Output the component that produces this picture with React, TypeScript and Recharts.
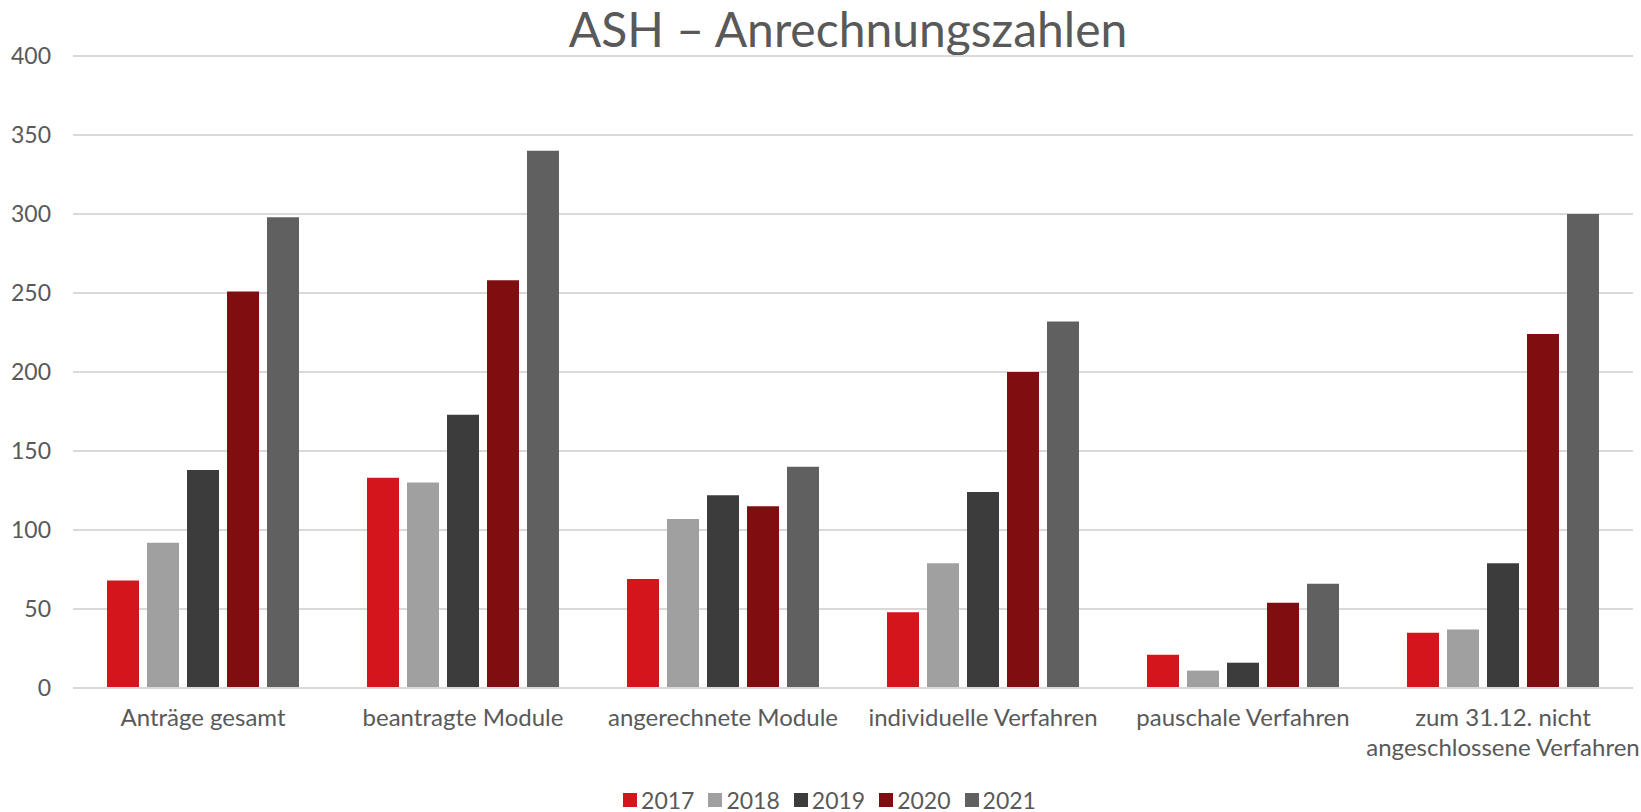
import { BarChart, Bar, XAxis, YAxis, CartesianGrid, Legend } from "recharts";

const categories = [
  "Anträge gesamt",
  "beantragte Module",
  "angerechnete Module",
  "individuelle Verfahren",
  "pauschale Verfahren",
  "zum 31.12. nicht\nangeschlossene Verfahren",
];

const years = ["2017", "2018", "2019", "2020", "2021"];

const values2017 = [68, 133, 69, 48, 21, 35];
const values2018 = [92, 130, 107, 79, 11, 37];
const values2019 = [138, 173, 122, 124, 16, 79];
const values2020 = [251, 258, 115, 200, 54, 224];
const values2021 = [298, 340, 140, 232, 66, 300];

const yTicks = [0, 50, 100, 150, 200, 250, 300, 350, 400];

const COLORS = ["#d3161c", "#a0a0a0", "#3c3c3c", "#800e10", "#606060"];

const FONT = "Lato, 'Liberation Sans', sans-serif";
const TEXT_COLOR = "#595959";

const seriesValues = [values2017, values2018, values2019, values2020, values2021];

const data = categories.map((category, i) => {
  const row: Record<string, string | number> = { category };
  years.forEach((year, j) => {
    row[year] = seriesValues[j][i];
  });
  return row;
});

function CategoryTick({ x, y, payload }: any) {
  const lines = String(payload.value).split("\n");
  return (
    <text
      x={x}
      y={y + 38}
      textAnchor="middle"
      fill={TEXT_COLOR}
      fontSize={24}
      fontFamily={FONT}
    >
      {lines.map((line, i) => (
        <tspan key={i} x={x} dy={i === 0 ? 0 : 30}>
          {line}
        </tspan>
      ))}
    </text>
  );
}

function YearLegend() {
  return (
    <div
      style={{
        height: 24,
        lineHeight: "24px",
        display: "flex",
        justifyContent: "center",
        alignItems: "center",
        gap: 14,
        paddingLeft: 26,
        fontFamily: FONT,
        fontSize: 23,
        color: TEXT_COLOR,
      }}
    >
      {years.map((year, i) => (
        <span key={year} style={{ display: "flex", alignItems: "center", gap: 4 }}>
          <span
            style={{ width: 14, height: 14, backgroundColor: COLORS[i], display: "inline-block" }}
          />
          <span>{year}</span>
        </span>
      ))}
    </div>
  );
}

export default function App() {
  return (
    <div style={{ position: "relative", width: 1641, height: 812, background: "#fff" }}>
      <style>{"body{margin:0}"}</style>
      <div
        style={{
          position: "absolute",
          left: 0,
          width: 1696,
          top: 1,
          textAlign: "center",
          fontFamily: FONT,
          fontSize: 48,
          color: TEXT_COLOR,
          lineHeight: "56px",
        }}
      >
        ASH – Anrechnungszahlen
      </div>
      <BarChart
        width={1641}
        height={812}
        data={data}
        margin={{ top: 56, right: 8, left: 0, bottom: 0 }}
        barCategoryGap={34}
        barGap={8}
      >
        <CartesianGrid vertical={false} stroke="#d9d9d9" strokeWidth={2} />
        <XAxis
          dataKey="category"
          height={100}
          interval={0}
          tickLine={false}
          tickSize={0}
          tickMargin={0}
          axisLine={{ stroke: "#d9d9d9", strokeWidth: 2 }}
          tick={<CategoryTick />}
        />
        <YAxis
          width={73}
          domain={[0, 400]}
          ticks={yTicks}
          axisLine={false}
          tickLine={false}
          tickSize={0}
          tickMargin={22}
          tick={{ fill: TEXT_COLOR, fontSize: 23, fontFamily: FONT }}
        />
        <Legend verticalAlign="bottom" wrapperStyle={{ bottom: 0 }} content={<YearLegend />} />
        {years.map((year, i) => (
          <Bar key={year} dataKey={year} fill={COLORS[i]} isAnimationActive={false} />
        ))}
      </BarChart>
    </div>
  );
}
